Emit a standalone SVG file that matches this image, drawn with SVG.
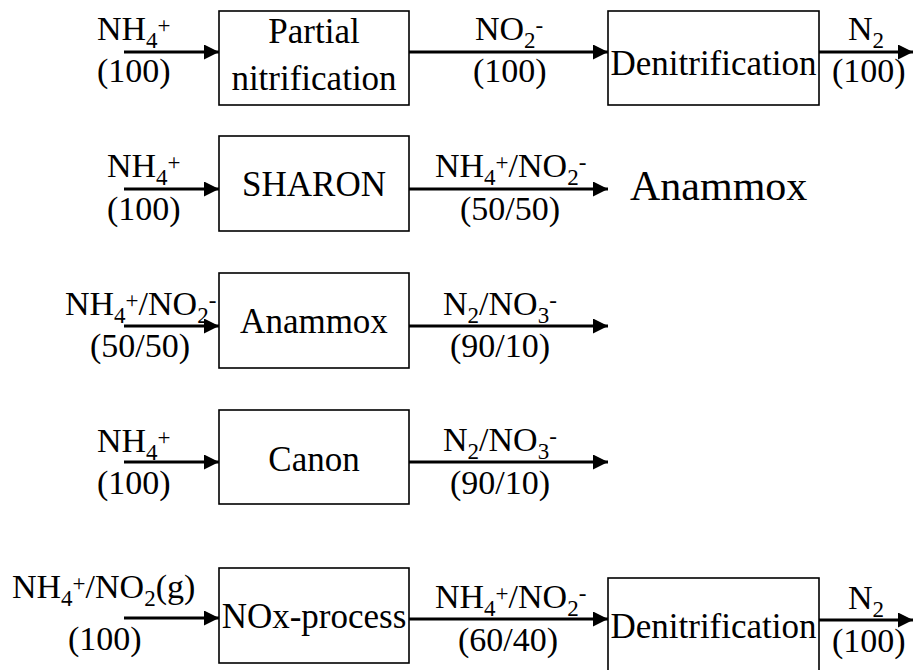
<svg xmlns="http://www.w3.org/2000/svg" width="917" height="670" viewBox="0 0 917 670">
<style>
text{font-family:"Liberation Serif","DejaVu Serif",serif;font-size:34px;fill:#000}
.bt{font-size:35px;text-anchor:middle}
.big{font-size:42px}
.s{font-size:23px}
.box{fill:#fff;stroke:#000;stroke-width:1.6}
.arr{stroke:#000;stroke-width:3;fill:none;marker-end:url(#ah)}
</style>
<defs>
<marker id="ah" markerUnits="userSpaceOnUse" markerWidth="16" markerHeight="16" refX="15" refY="7.5" orient="auto">
<path d="M0,0 L15,7.5 L0,15 Z" fill="#000"/>
</marker>
</defs>
<rect width="917" height="670" fill="#fff"/>
<g id="connectors">
<line class="arr" x1="124" y1="52" x2="219" y2="52"/>
<line class="arr" x1="409" y1="52" x2="608" y2="52"/>
<line class="arr" x1="819" y1="52" x2="913" y2="52"/>
<line class="arr" x1="124" y1="189" x2="219" y2="189"/>
<line class="arr" x1="409" y1="189" x2="608" y2="189"/>
<line class="arr" x1="124" y1="326" x2="219" y2="326"/>
<line class="arr" x1="409" y1="326" x2="608" y2="326"/>
<line class="arr" x1="124" y1="462" x2="219" y2="462"/>
<line class="arr" x1="409" y1="462" x2="608" y2="462"/>
<line class="arr" x1="124" y1="618" x2="219" y2="618"/>
<line class="arr" x1="409" y1="619" x2="608" y2="619"/>
<line class="arr" x1="819" y1="620" x2="913" y2="620"/>
</g>
<g id="partial-nitrification">
<rect class="box" x="219" y="11" width="190" height="94"/>
<text class="bt" x="314" y="43">Partial</text>
<text class="bt" x="314" y="90">nitrification</text>
</g>
<g id="denitrification-1">
<rect class="box" x="608" y="11" width="211" height="94"/>
<text class="bt" x="713.5" y="75">Denitrification</text>
</g>
<g id="sharon">
<rect class="box" x="219" y="136" width="190" height="95"/>
<text class="bt" x="314" y="196">SHARON</text>
</g>
<g id="anammox-out">
<text class="big" x="630" y="200">Anammox</text>
</g>
<g id="anammox">
<rect class="box" x="219" y="273" width="190" height="95"/>
<text class="bt" x="314" y="333">Anammox</text>
</g>
<g id="canon">
<rect class="box" x="219" y="410" width="190" height="94"/>
<text class="bt" x="314" y="471">Canon</text>
</g>
<g id="nox-process">
<rect class="box" x="219" y="568" width="190" height="95"/>
<text class="bt" x="314" y="628">NOx-process</text>
</g>
<g id="denitrification-2">
<rect class="box" x="608" y="578" width="211" height="95"/>
<text class="bt" x="713.5" y="638">Denitrification</text>
</g>
<g id="labels">
<text x="97" y="40">NH<tspan class="s" dy="8">4</tspan><tspan class="s" dy="-15">+</tspan></text>
<text x="97" y="82">(100)</text>
<text x="475" y="40">NO<tspan class="s" dy="8">2</tspan><tspan class="s" dy="-15">-</tspan></text>
<text x="473" y="82">(100)</text>
<text x="848" y="40">N<tspan class="s" dy="8">2</tspan></text>
<text x="832" y="82">(100)</text>

<text x="107" y="177">NH<tspan class="s" dy="8">4</tspan><tspan class="s" dy="-15">+</tspan></text>
<text x="107" y="220">(100)</text>
<text x="435" y="177">NH<tspan class="s" dy="8">4</tspan><tspan class="s" dy="-15">+</tspan><tspan dy="7">/NO</tspan><tspan class="s" dy="8">2</tspan><tspan class="s" dy="-15">-</tspan></text>
<text x="460" y="220">(50/50)</text>

<text x="65" y="315">NH<tspan class="s" dy="8">4</tspan><tspan class="s" dy="-15">+</tspan><tspan dy="7">/NO</tspan><tspan class="s" dy="8">2</tspan><tspan class="s" dy="-15">-</tspan></text>
<text x="90" y="357">(50/50)</text>
<text x="443" y="315">N<tspan class="s" dy="8">2</tspan><tspan dy="-8">/NO</tspan><tspan class="s" dy="8">3</tspan><tspan class="s" dy="-15">-</tspan></text>
<text x="450" y="357">(90/10)</text>

<text x="97" y="452">NH<tspan class="s" dy="8">4</tspan><tspan class="s" dy="-15">+</tspan></text>
<text x="97" y="494">(100)</text>
<text x="443" y="451">N<tspan class="s" dy="8">2</tspan><tspan dy="-8">/NO</tspan><tspan class="s" dy="8">3</tspan><tspan class="s" dy="-15">-</tspan></text>
<text x="450" y="494">(90/10)</text>

<text x="12" y="598">NH<tspan class="s" dy="8">4</tspan><tspan class="s" dy="-15">+</tspan><tspan dy="7">/NO</tspan><tspan class="s" dy="8">2</tspan><tspan dy="-8">(g)</tspan></text>
<text x="68" y="650">(100)</text>
<text x="435" y="608">NH<tspan class="s" dy="8">4</tspan><tspan class="s" dy="-15">+</tspan><tspan dy="7">/NO</tspan><tspan class="s" dy="8">2</tspan><tspan class="s" dy="-15">-</tspan></text>
<text x="458" y="651">(60/40)</text>
<text x="848" y="609">N<tspan class="s" dy="8">2</tspan></text>
<text x="832" y="652">(100)</text>
</g>
</svg>
